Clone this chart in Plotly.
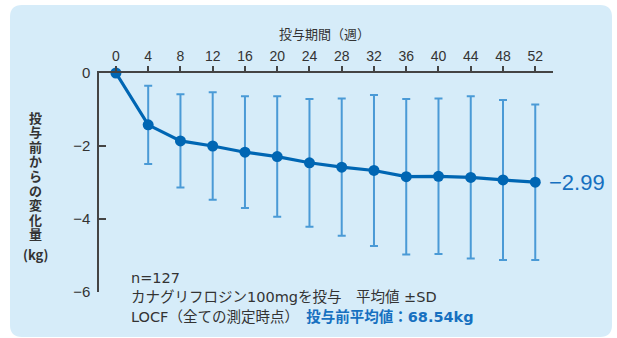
import plotly.graph_objects as go

# Weeks of treatment and change in body weight from baseline (kg)
weeks = [0, 4, 8, 12, 16, 20, 24, 28, 32, 36, 40, 44, 48, 52]
mean_change = [0, -1.42, -1.86, -2.00, -2.17, -2.29, -2.46, -2.58, -2.67, -2.84, -2.83, -2.86, -2.93, -2.99]
sd_change = [0, 1.07, 1.28, 1.47, 1.53, 1.65, 1.75, 1.88, 2.07, 2.13, 2.13, 2.22, 2.19, 2.13]

x_ticks = list(range(0, 53, 4))
y_ticks = [0, -2, -4, -6]

y_title_chars = list("投与前からの変化量")

W, H = 617, 338
ML, MR, MT, MB = 99, 64, 73, 46
PW, PH = W - ML - MR, H - MT - MB

LINE_BLUE = "#0066b3"
BAR_BLUE = "#4a9ad6"
LABEL_BLUE = "#1670c0"
TEXT = "#333333"
BG = "#d6ecf9"
FONT = "Liberation Sans, Noto Sans CJK JP, sans-serif"
CJK = "Noto Sans CJK JP"
NOTE_FONT = "DejaVu Sans, Noto Sans CJK JP, sans-serif"


def px(x):
    return (x - ML) / PW


def py(y):
    return (H - MB - y) / PH


fig = go.Figure()

fig.add_trace(go.Scatter(
    x=weeks,
    y=mean_change,
    mode="lines+markers",
    line=dict(color=LINE_BLUE, width=3.2),
    marker=dict(color=LINE_BLUE, size=11),
    error_y=dict(type="data", array=sd_change, symmetric=True,
                 color=BAR_BLUE, thickness=2, width=4),
    cliponaxis=False,
    showlegend=False,
))

# rounded panel behind the chart
x0, x1, y0, y1 = px(10), px(612), py(5), py(337)
rx, ry = 12 / PW, 12 / PH
panel = (f"M {x0+rx},{y0} L {x1-rx},{y0} Q {x1},{y0} {x1},{y0-ry} "
         f"L {x1},{y1+ry} Q {x1},{y1} {x1-rx},{y1} "
         f"L {x0+rx},{y1} Q {x0},{y1} {x0},{y1+ry} "
         f"L {x0},{y0-ry} Q {x0},{y0} {x0+rx},{y0} Z")
fig.add_shape(type="path", path=panel, xref="paper", yref="paper",
              fillcolor=BG, line=dict(width=0), layer="below")

annotations = []


def label(x, y, text, font, xanchor="center"):
    return dict(x=px(x), y=py(y), xref="paper", yref="paper", text=text,
                showarrow=False, xanchor=xanchor, yanchor="middle", font=font)


# x axis title
annotations.append(label(324, 33, "投与期間（週）",
                         dict(size=13, color=TEXT, family=CJK)))

# vertical y axis title, one character per row
title_font = dict(size=13, color=TEXT, family=CJK, weight="bold")
for i, ch in enumerate(y_title_chars):
    annotations.append(label(35, 117 + i * 14.6, ch, title_font))
annotations.append(label(35, 254, "(kg)", title_font))

# value label at the last time point
annotations.append(dict(x=weeks[-1], y=mean_change[-1], xref="x", yref="y",
                        text=f"−{abs(mean_change[-1]):.2f}", showarrow=False,
                        xanchor="left", yanchor="middle", xshift=12,
                        font=dict(size=22, color=LABEL_BLUE, family=FONT)))

# notes
notes = [
    ("n=127", 278),
    ("カナグリフロジン100mgを投与　平均値 ±SD", 297),
    ("LOCF（全ての測定時点）　<span style='color:%s'><b>投与前平均値：68.54kg</b></span>" % LABEL_BLUE, 316),
]
note_font = dict(size=14.5, color=TEXT, family=NOTE_FONT)
for txt, yy in notes:
    annotations.append(label(129, yy, txt, note_font, xanchor="left"))

fig.update_layout(
    width=W, height=H,
    margin=dict(l=ML, r=MR, t=MT, b=MB),
    paper_bgcolor="white",
    plot_bgcolor="rgba(0,0,0,0)",
    font=dict(family=FONT, color=TEXT, size=14),
    annotations=annotations,
    xaxis=dict(side="top", range=[-2.1, 54.2], tickvals=x_ticks,
               ticks="outside", ticklen=5, tickwidth=1.5, tickcolor="#444",
               showline=True, linecolor="#444", linewidth=1.5,
               showgrid=False, zeroline=False,
               tickfont=dict(size=14, color=TEXT)),
    yaxis=dict(range=[-6, 0], tickvals=y_ticks,
               ticks="inside", ticklen=7, tickwidth=1.5, tickcolor="#444",
               showline=True, linecolor="#444", linewidth=1.5,
               showgrid=False, zeroline=False,
               ticklabelstandoff=4,
               tickfont=dict(size=15, color=TEXT)),
)

fig.write_html("out.html")
